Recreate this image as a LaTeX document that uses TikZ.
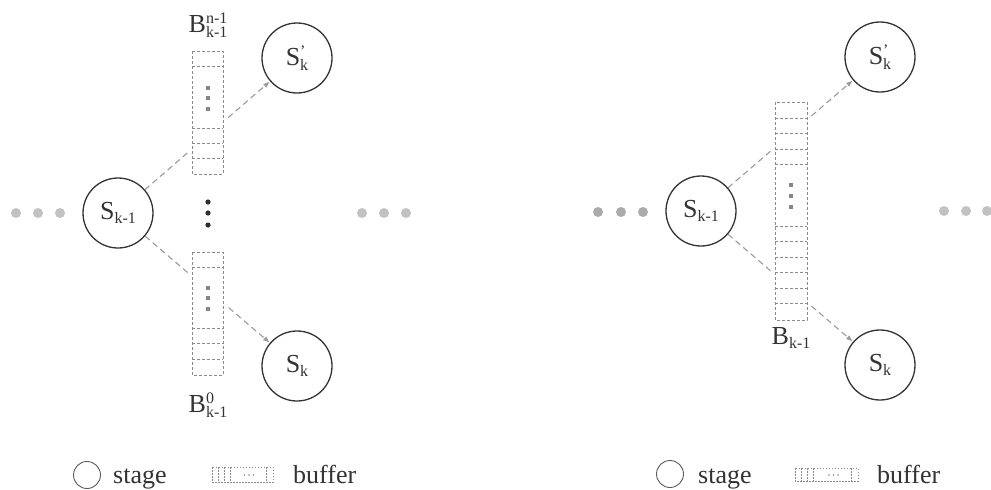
\documentclass[tikz,border=0pt]{standalone}
\usepackage{fontspec}
\setmainfont{Liberation Serif}
\usetikzlibrary{arrows.meta}
\definecolor{ink}{HTML}{333333}
\definecolor{connc}{HTML}{9A9A9A}
\definecolor{bufc}{HTML}{8C8C8C}
\definecolor{bdot}{HTML}{858585}
\definecolor{sdotl}{HTML}{C2C2C2}
\definecolor{sdotr}{HTML}{ABABAB}
\newcommand\tlbl[3]{#1\rlap{\raisebox{0.36em}{\fontsize{16}{16}\selectfont #2}}\raisebox{-0.16em}{\fontsize{16}{16}\selectfont #3}}
\begin{document}
\begin{tikzpicture}[x=1pt,y=-1pt,
  every node/.style={text=ink,font=\fontsize{26}{30}\selectfont},
  stage/.style={circle,draw=ink,line width=1.3pt,minimum size=70pt,inner sep=0pt,fill=white},
  legstage/.style={circle,draw=ink!80,line width=0.9pt,minimum size=27pt,inner sep=0pt},
  conn/.style={draw=connc,dash pattern=on 6pt off 4pt,line width=1.1pt,-{Latex[length=7pt,width=5pt]}},
  buf/.style={draw=bufc,dash pattern=on 3pt off 2pt,line width=0.7pt},
  legbuf/.style={draw=bufc,dash pattern=on 1.5pt off 1.5pt,line width=0.6pt},
  lbl/.style={inner sep=0pt}]
\useasboundingbox (0,0) rectangle (991,490);

% ---------------- left panel ----------------
\node[stage] (l1) at (118,213) {\tlbl{S}{}{k-1}};
\node[stage] (l2) at (297,58) {\tlbl{S}{'}{k}};
\node[stage] (l3) at (297,366) {\tlbl{S}{}{k}};
\draw[conn] (l1) -- (l2);
\draw[conn] (l1) -- (l3);

% upper buffer
\fill[white] (188,48) rectangle (227,177);
\draw[buf] (192,51) rectangle (223,174);
\foreach \y in {66,128,143,158} \draw[buf] (192,\y) -- (223,\y);
\foreach \y in {88,98,109} \fill[bdot] (205.5,\y-2) rectangle (209.5,\y+2);
% lower buffer
\fill[white] (188,249) rectangle (227,378);
\draw[buf] (192,252) rectangle (223,375);
\foreach \y in {267,328,343,359} \draw[buf] (192,\y) -- (223,\y);
\foreach \y in {288,298,309} \fill[bdot] (205.5,\y-2) rectangle (209.5,\y+2);

\node[lbl] (bl1) at (208,25) {\tlbl{B}{n-1}{k-1}};
\node[lbl] (bl2) at (208,405) {\tlbl{B}{0}{k-1}};

% vertical black dots
\foreach \y in {202,213,225} \fill[ink!90!black] (208,\y) circle (2.6pt);
% side dots
\foreach \x in {16,38,60} \fill[sdotl] (\x,213) circle (5pt);
\foreach \x in {362,384,406} \fill[sdotl] (\x,213) circle (5pt);

% ---------------- right panel ----------------
\node[stage] (r1) at (701,211) {\tlbl{S}{}{k-1}};
\node[stage] (r2) at (880,57) {\tlbl{S}{'}{k}};
\node[stage] (r3) at (880,365) {\tlbl{S}{}{k}};
\draw[conn] (r1) -- (r2);
\draw[conn] (r1) -- (r3);

\fill[white] (771,99) rectangle (811,323);
\draw[buf] (775,102) rectangle (807,320);
\foreach \y in {118,133,149,164,226,241,257,272,288,303} \draw[buf] (775,\y) -- (807,\y);
\foreach \y in {185,196,207} \fill[bdot] (789,\y-2) rectangle (793,\y+2);
\node[lbl] (br) at (791,338) {\tlbl{B}{}{k-1}};

\foreach \x in {598,621,643} \fill[sdotr] (\x,212) circle (5pt);
\foreach \x in {944,966,987} \fill[sdotl] (\x,211) circle (5pt);

% ---------------- legends ----------------
\node[legstage] (lgs1) at (87,475) {};
\node[anchor=base west,inner sep=0pt] (lgt1) at (113,483) {stage};
\draw[legbuf] (212,467) rectangle (273,482);
\foreach \x in {218,224,230,266} \draw[legbuf] (\x,467) -- (\x,482);
\foreach \x in {244.5,249,253.5} \fill[bufc] (\x,475) circle (0.8pt);
\node[anchor=base west,inner sep=0pt] (lgb1) at (293,483) {buffer};

\node[legstage] (lgs2) at (670,474) {};
\node[anchor=base west,inner sep=0pt] (lgt2) at (698,483) {stage};
\draw[legbuf] (795,468) rectangle (858,481);
\foreach \x in {801,807,813,851} \draw[legbuf] (\x,468) -- (\x,481);
\foreach \x in {829,833.5,838} \fill[bufc] (\x,475) circle (0.8pt);
\node[anchor=base west,inner sep=0pt] (lgb2) at (877,483) {buffer};
\end{tikzpicture}
\end{document}
